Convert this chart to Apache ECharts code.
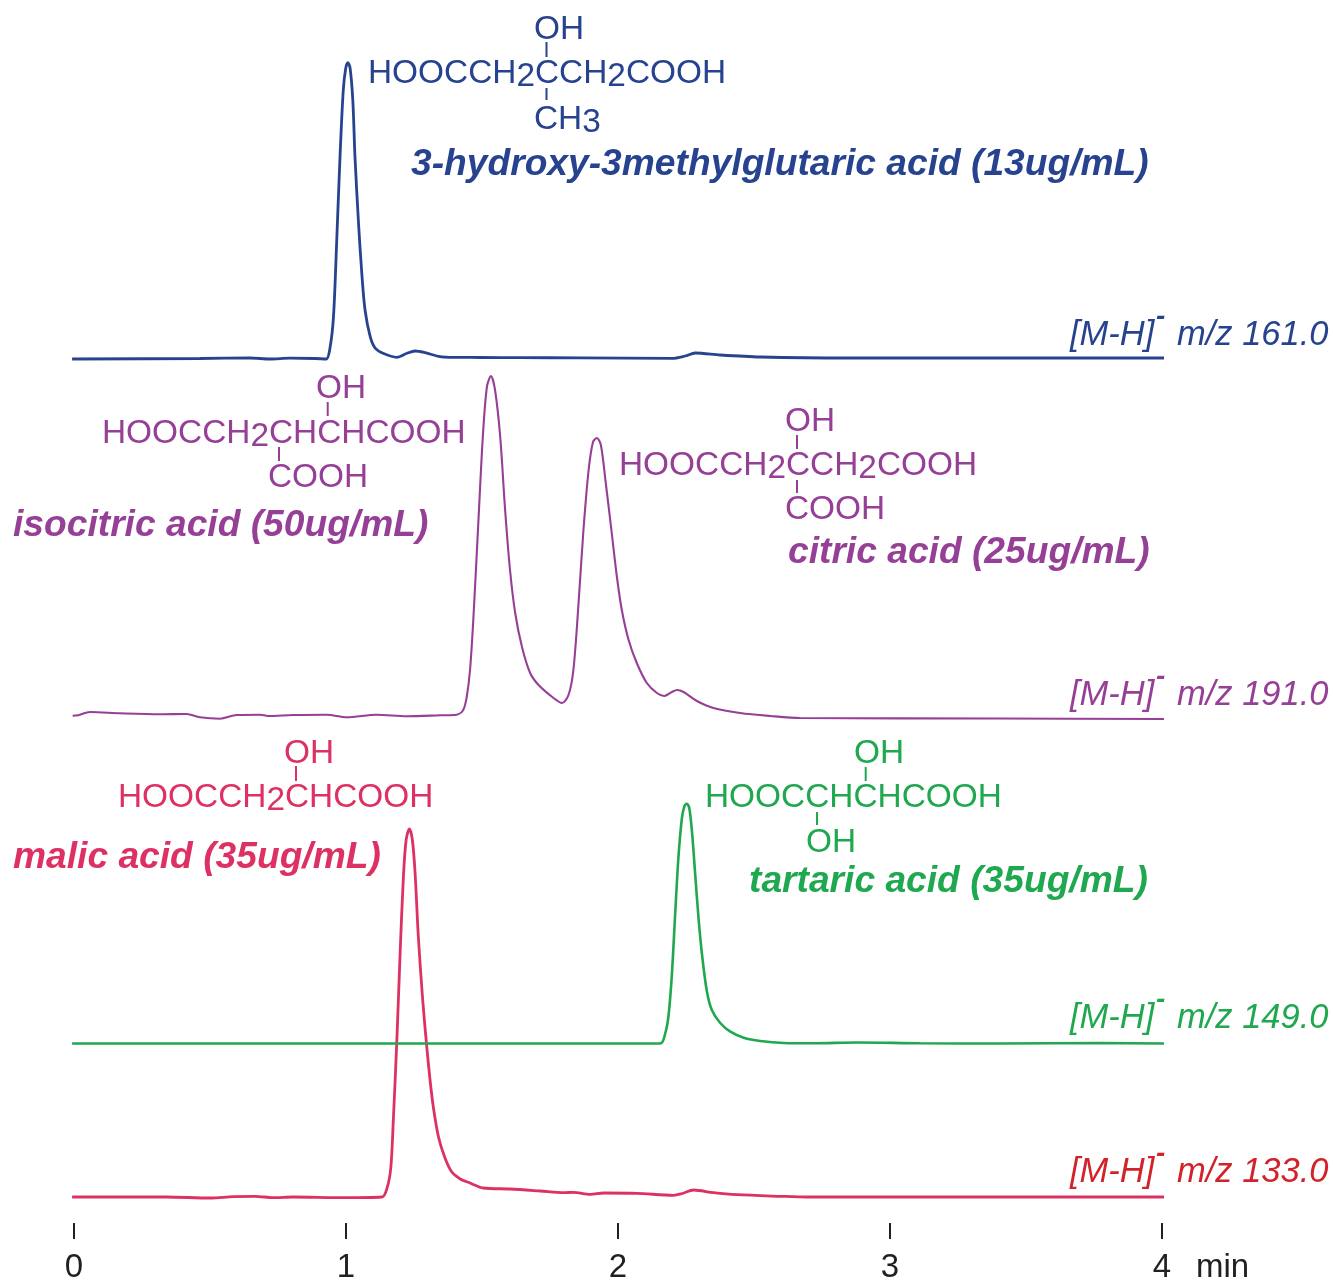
<!DOCTYPE html>
<html>
<head>
<meta charset="utf-8">
<style>html,body{margin:0;padding:0;background:#fff}#c{width:1333px;height:1281px}</style>
<script src="https://cdn.jsdelivr.net/npm/echarts@6/dist/echarts.min.js"></script>
</head>
<body>
<div id="c"></div>
<script>
// retention time (min) and signal height for each extracted ion trace
const tBlue = [-0.007,0.463,0.647,0.721,0.794,0.886,0.927,0.941,0.954,0.966,0.978,0.990,0.999,1.007,1.015,1.025,1.033,1.046,1.058,1.070,1.089,1.107,1.136,1.187,1.224,1.254,1.291,1.346,1.383,1.493,1.640,1.861,2.199,2.247,2.284,2.376,2.523,2.854,3.406,4.009];
const yBlue = [0,0.5,1,0,0.8,0.5,0,10.7,42.3,119,202.3,269,290.7,296.3,291,259,202.3,136,86,49,22.3,11,5.7,1.7,5.7,8,6.3,2.3,1.7,1.5,1.3,1.2,0.6,3,6,4,2,1,1,1];
const tPurple = [-0.005,0.015,0.059,0.169,0.316,0.414,0.463,0.537,0.598,0.684,0.713,0.805,0.929,1.003,1.113,1.224,1.346,1.407,1.431,1.444,1.456,1.468,1.487,1.503,1.518,1.533,1.548,1.567,1.585,1.603,1.622,1.647,1.677,1.708,1.763,1.794,1.818,1.836,1.855,1.873,1.892,1.908,1.922,1.937,1.955,1.977,1.996,2.014,2.039,2.069,2.106,2.143,2.170,2.198,2.217,2.241,2.290,2.351,2.449,2.560,2.670,3.406,4.009];
const yPurple = [0.3,0.7,4,2.7,1.7,2,-1.3,-2.7,1,1.3,0,1,1.3,-1.3,1.3,-0.3,0.7,1.3,6,19.3,46,96,196,279,329,340,326,279,206,146,103,69,43,31,18,13,21,46,113,186,246,274,278,271,233,183,139,106,76,53,33,23,20,24,26,24,15,8,3,0,-2,-2.5,-3];
const tGreen = [-0.007,1.199,2.155,2.174,2.186,2.198,2.210,2.222,2.235,2.245,2.253,2.262,2.272,2.284,2.296,2.309,2.327,2.345,2.376,2.413,2.462,2.523,2.609,2.718,2.880,3.111,3.406,3.774,4.009];
const yGreen = [0,0,0,10.5,28.5,68.5,128.5,185.5,225.5,237.8,239.8,235.5,211.8,168.5,125.5,88.5,51.8,33.5,20.5,11.8,5.8,2.5,0.5,0.2,1,0.2,0,0.4,0];
const tRed = [-0.007,0.341,0.500,0.585,0.666,0.732,0.805,0.989,1.132,1.152,1.165,1.174,1.187,1.199,1.211,1.221,1.233,1.244,1.254,1.266,1.282,1.297,1.309,1.321,1.340,1.364,1.389,1.420,1.456,1.505,1.603,1.714,1.800,1.835,1.898,1.947,2.069,2.204,2.236,2.278,2.351,2.437,2.597,2.695,4.009];
const yRed = [0,0,-1,0.3,0.7,-0.7,0,-0.7,0,10,30,77,157,244,320,357,368,357,324,260,197,150,117,90,60,39,25,18,14,9,8,6,4.3,4.7,2.7,4,3.7,1.7,3.5,7,4.3,2.3,0.7,0,0];
const xTicks = [0, 1, 2, 3, 4];

const FONT = '"Liberation Sans", Arial, sans-serif';
const BLUE = '#27438f', PURPLE = '#963f96', GREEN = '#1fa84f', ROSE = '#dd3163', RED = '#d2232a';

function pairs(t, y) { return t.map((v, i) => [v, y[i]]); }

// order matters: green is painted over red where they cross
const traces = [
  {name: 'm/z 133.0', t: tRed, y: yRed, color: ROSE, width: 2.8, base: 1197, h: 368},
  {name: 'm/z 149.0', t: tGreen, y: yGreen, color: GREEN, width: 2.6, base: 1043.5, h: 239.8},
  {name: 'm/z 191.0', t: tPurple, y: yPurple, color: PURPLE, width: 2.1, base: 716, h: 340},
  {name: 'm/z 161.0', t: tBlue, y: yBlue, color: BLUE, width: 2.8, base: 359, h: 296.3}
];

const grids = [], xAxes = [], yAxes = [], series = [];
traces.forEach((tr, i) => {
  grids.push({left: 74, right: 171, top: tr.base - tr.h, height: tr.h, outerBoundsMode: 'none', containLabel: false});
  const visible = i === 0;
  xAxes.push({
    gridIndex: i, type: 'value', min: 0, max: 4, interval: 1,
    show: visible, offset: 26,
    axisLine: {show: false, onZero: false},
    axisTick: {show: true, length: 16, lineStyle: {color: '#231f20', width: 2}},
    axisLabel: {show: true, margin: 28, color: '#231f20', fontSize: 33, fontFamily: FONT,
      formatter: v => xTicks.includes(v) ? String(v) : ''},
    splitLine: {show: false}
  });
  yAxes.push({gridIndex: i, type: 'value', min: 0, max: tr.h, show: false, splitLine: {show: false}});
  series.push({
    name: tr.name, type: 'line', xAxisIndex: i, yAxisIndex: i,
    data: pairs(tr.t, tr.y), showSymbol: false, clip: false,
    smooth: 0.3,
    lineStyle: {color: tr.color, width: tr.width}, itemStyle: {color: tr.color},
    animation: false, silent: true, z: 2 + i
  });
});

// --- annotations ---
const G = [];
const DY = 2;
function plain(text, x, y, color, size, extra) {
  G.push({type: 'text', silent: true, z: 20, style: Object.assign({
    text, x, y: y + DY, fill: color, fontSize: size, fontFamily: FONT, verticalAlign: 'middle', align: 'left'
  }, extra || {})});
}
// formula row: digits are set slightly below the line
function formula(text, x, y, color) {
  const S = 33.4;
  const parts = text.split(/(\d)/).filter(Boolean).map(p =>
    /\d/.test(p) ? '{d|' + p + '}' : '{b|' + p + '}').join('');
  G.push({type: 'text', silent: true, z: 20, style: {
    text: parts, x, y: y + DY, fill: color, fontSize: S, fontFamily: FONT, verticalAlign: 'middle', align: 'left',
    rich: {
      b: {fontSize: S, fontFamily: FONT, fill: color, lineHeight: 40, height: 40},
      d: {fontSize: S, fontFamily: FONT, fill: color, lineHeight: 34, height: 34, verticalAlign: 'bottom'}
    }
  }});
}
function bond(x, y1, y2, color) {
  G.push({type: 'line', silent: true, z: 20, shape: {x1: x, y1, x2: x, y2}, style: {stroke: color, lineWidth: 2}});
}
function nameLabel(text, x, y, color) {
  plain(text, x, y, color, 37.2, {fontWeight: 'bold', fontStyle: 'italic'});
}
function ionLabel(mz, y, color) {
  plain('[M-H]', 1070, y, color, 34.5, {fontStyle: 'italic'});
  plain('-', 1156, y - 18, color, 28, {fontWeight: 'bold', fontStyle: 'italic'});
  plain('m/z ' + mz, 1177, y, color, 34.5, {fontStyle: 'italic'});
}

formula('OH', 534, 27.5, BLUE);
formula('HOOCCH2CCH2COOH', 368, 72, BLUE);
formula('CH3', 534, 117.5, BLUE);
bond(546.5, 42, 57, BLUE); bond(546.5, 88, 100, BLUE);
nameLabel('3-hydroxy-3methylglutaric acid (13ug/mL)', 411, 163, BLUE);
ionLabel('161.0', 333, BLUE);

formula('OH', 316, 387, PURPLE);
formula('HOOCCH2CHCHCOOH', 102, 431.5, PURPLE);
formula('COOH', 268, 476, PURPLE);
bond(327.7, 402, 416, PURPLE); bond(279, 447, 461, PURPLE);
nameLabel('isocitric acid (50ug/mL)', 13, 524, PURPLE);

formula('OH', 785, 420, PURPLE);
formula('HOOCCH2CCH2COOH', 619, 464, PURPLE);
formula('COOH', 785, 508, PURPLE);
bond(797, 435, 449, PURPLE); bond(797, 480, 493, PURPLE);
nameLabel('citric acid (25ug/mL)', 788, 551, PURPLE);
ionLabel('191.0', 693, PURPLE);

formula('OH', 284, 751.5, ROSE);
formula('HOOCCH2CHCOOH', 118, 796, ROSE);
bond(296, 766, 781, ROSE);
nameLabel('malic acid (35ug/mL)', 13, 856, ROSE);
ionLabel('133.0', 1170, RED);

formula('OH', 854, 751.5, GREEN);
formula('HOOCCHCHCOOH', 705, 796, GREEN);
formula('OH', 806, 840.5, GREEN);
bond(865.7, 767, 781, GREEN); bond(817, 812, 825, GREEN);
nameLabel('tartaric acid (35ug/mL)', 749, 880, GREEN);
ionLabel('149.0', 1016, GREEN);

plain('min', 1196, 1266, '#231f20', 33);

const chart = echarts.init(document.getElementById('c'), null, {renderer: 'canvas'});
chart.setOption({
  animation: false,
  backgroundColor: '#ffffff',
  grid: grids, xAxis: xAxes, yAxis: yAxes, series,
  graphic: {elements: G}
});
</script>
</body>
</html>
